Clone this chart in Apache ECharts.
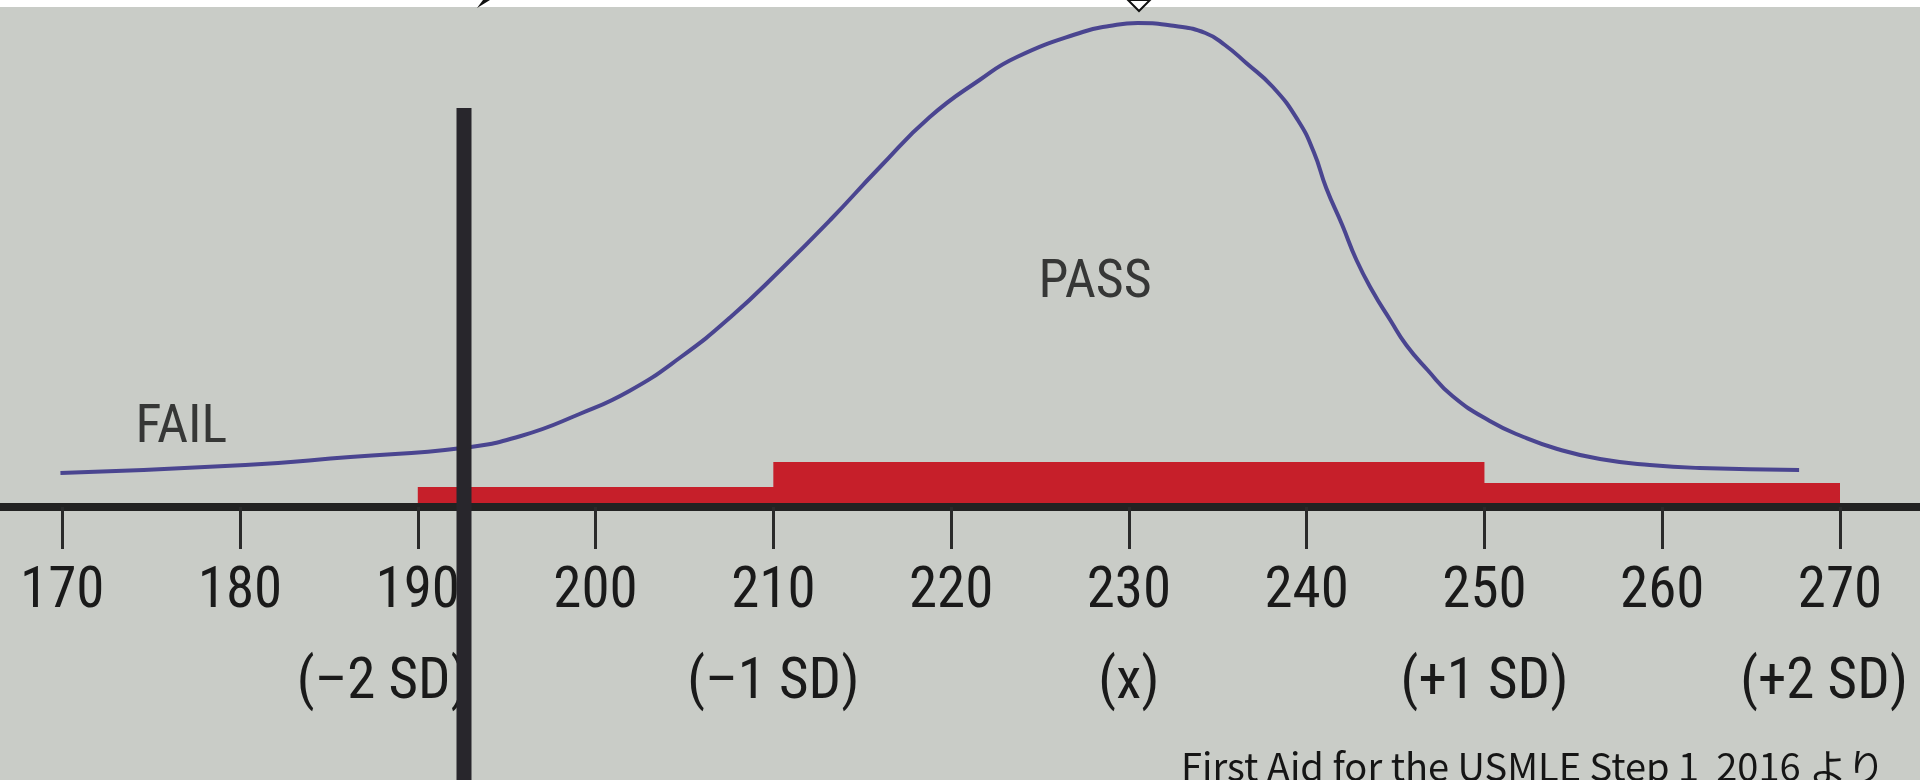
<!DOCTYPE html>
<html>
<head>
<meta charset="utf-8">
<script src="https://cdn.jsdelivr.net/npm/echarts@6/dist/echarts.min.js"></script>
<style>
html, body { margin: 0; padding: 0; background: #c9ccc7; }
#main { width: 1920px; height: 780px; }
</style>
</head>
<body>
<div id="main"></div>
<script>
// 得点分布カーブ（読み取り値）
var curveX = [169.9, 180.3, 186.2, 192.5, 195.8, 199.1, 201.9, 204.8, 207.6, 210.4, 213.2, 216.0, 218.8, 221.6,
  223.7, 227.4, 228.9, 230.5, 232.6, 234.3, 235.4, 236.6, 238.1, 239.5, 240.4, 241.1, 242.0, 242.8, 243.7,
  244.7, 245.6, 246.8, 248.2, 250.3, 252.2, 254.1, 256.5, 259.3, 262.1, 267.7];
var curveY = [6.8, 8.4, 10, 11.8, 14.2, 18.6, 23.2, 30, 38, 47.4, 57.4, 68, 78, 85.4,
  90, 95, 96.2, 96.8, 96.2, 94.8, 92.4, 88.8, 84, 77.4, 71, 63.8, 56.4, 49.4, 43.2,
  37.4, 32.4, 27.4, 22.2, 17.2, 14, 11.6, 9.6, 8.4, 7.8, 7.4];

// 赤い帯（階段状）
var bandX = [190, 210, 250, 270];
var bandY = [4, 9, 4.8, 4.8];

// 目盛
var tickValues = [170, 180, 190, 200, 210, 220, 230, 240, 250, 260, 270];
var sdLabels = { 190: '(–2 SD)', 210: '(–1 SD)', 230: '(x)', 250: '(+1 SD)', 270: '(+2 SD)' };

// 合格ライン
var passScore = 192.6;
var passLineTop = 79.8;
var passLineBottom = -54.6;

// 文字ラベル
var textNames = ['PASS', 'FAIL'];
var textX = [228.1, 176.7];
var textY = [44.8, 15.8];

var narrow = "'Roboto Condensed', 'Open Sans', sans-serif";

var myChart = echarts.init(document.getElementById('main'));

var option = {
  backgroundColor: '#c9ccc7',
  animation: false,
  grid: { left: 0, right: 0, top: 7, bottom: 273, outerBoundsMode: 'none' },
  xAxis: {
    type: 'value',
    min: 166.5,
    max: 274.5,
    z: 3,
    splitLine: { show: false },
    axisLine: { onZero: false, lineStyle: { color: '#222222', width: 8 } },
    axisTick: {
      customValues: tickValues,
      length: 42,
      lineStyle: { color: '#2a2a2a', width: 3 }
    },
    axisLabel: {
      customValues: tickValues,
      margin: 40,
      fontSize: 57,
      lineHeight: 91,
      color: '#1a1a1a',
      fontFamily: narrow,
      formatter: function (v) {
        var s = sdLabels[v];
        if (!s) return '{n|' + v + '}';
        var key = v === 190 ? 'sl' : (v === 270 ? 'sr' : 's');
        return '{n|' + v + '}\n{' + key + '|' + s + '}';
      },
      rich: {
        n: { fontSize: 57, lineHeight: 91, fontFamily: narrow, color: '#1a1a1a' },
        s: { fontSize: 57, lineHeight: 91, fontFamily: narrow, color: '#1a1a1a' },
        sl: { fontSize: 57, lineHeight: 91, fontFamily: narrow, color: '#1a1a1a', padding: [0, 70, 0, 0] },
        sr: { fontSize: 57, lineHeight: 91, fontFamily: narrow, color: '#1a1a1a', padding: [0, 32, 0, 0] }
      }
    }
  },
  yAxis: {
    type: 'value',
    min: 0,
    max: 100,
    show: false
  },
  graphic: [
    { type: 'rect', shape: { x: 0, y: 0, width: 1920, height: 7 }, style: { fill: '#ffffff' }, z: 100 },
    { type: 'polygon', shape: { points: [[1128, 0], [1139, 11], [1150, 0]] }, style: { fill: '#ffffff', stroke: '#111', lineWidth: 2 }, z: 101 },
    { type: 'polygon', shape: { points: [[477, 8], [490, 0], [483, 0]] }, style: { fill: '#111' }, z: 101 },
    {
      type: 'text', left: 1181, top: 748, z: 50,
      style: {
        text: 'First Aid for the USMLE Step 1  2016 より',
        fontSize: 38,
        fontFamily: "'Noto Sans CJK JP', 'Noto Sans', sans-serif",
        fill: '#151515'
      }
    }
  ],
  series: [
    {
      name: 'band',
      type: 'line',
      step: 'end',
      symbol: 'none',
      z: 1,
      lineStyle: { width: 0 },
      areaStyle: { color: '#c61f2a', opacity: 1 },
      data: bandX.map(function (x, i) { return [x, bandY[i]]; })
    },
    {
      name: 'curve',
      type: 'line',
      smooth: true,
      symbol: 'none',
      z: 4,
      lineStyle: { color: '#4a4590', width: 4 },
      data: curveX.map(function (x, i) { return [x, curveY[i]]; })
    },
    {
      name: 'pass',
      type: 'line',
      symbol: 'none',
      clip: false,
      z: 5,
      lineStyle: { color: '#28262c', width: 15, cap: 'butt' },
      data: [[passScore, passLineTop], [passScore, passLineBottom]]
    },
    {
      name: 'labels',
      type: 'scatter',
      symbolSize: 0,
      z: 6,
      label: {
        show: true,
        position: 'inside',
        formatter: '{b}',
        fontSize: 54,
        color: '#111111',
        fontFamily: narrow
      },
      data: textNames.map(function (n, i) { return { name: n, value: [textX[i], textY[i]] }; })
    }
  ]
};

myChart.setOption(option);
</script>
</body>
</html>
